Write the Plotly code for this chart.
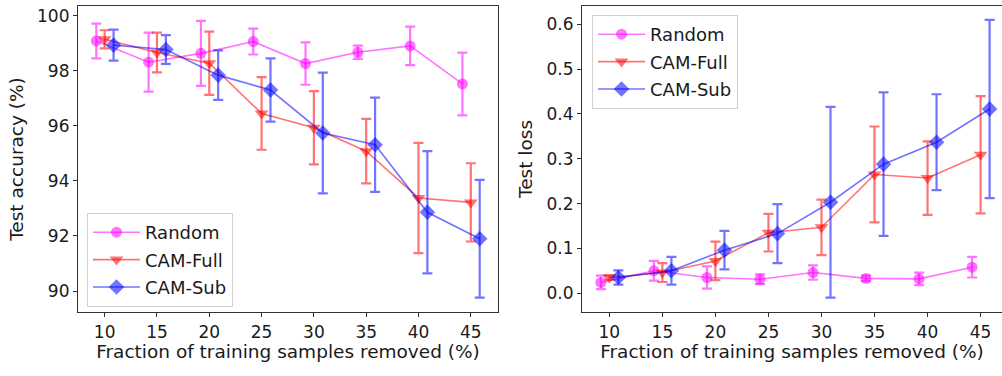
import plotly.graph_objects as go

# ---- data ----
fractions = [10, 15, 20, 25, 30, 35, 40, 45]
offset_random = -0.8
offset_sub = 0.85

acc_random = [99.08, 98.31, 98.63, 99.06, 98.26, 98.67, 98.90, 97.52]
acc_random_err = [0.63, 1.07, 1.18, 0.47, 0.77, 0.24, 0.70, 1.14]
acc_full = [99.14, 98.66, 98.27, 96.45, 95.93, 95.08, 93.38, 93.22]
acc_full_err = [0.33, 0.72, 1.15, 1.32, 1.33, 1.17, 2.00, 1.42]
acc_sub = [98.93, 98.77, 97.84, 97.30, 95.74, 95.31, 92.86, 91.90]
acc_sub_err = [0.56, 0.52, 0.90, 1.15, 2.19, 1.71, 2.22, 2.14]

loss_random = [0.024, 0.050, 0.035, 0.031, 0.046, 0.033, 0.032, 0.058]
loss_random_err = [0.015, 0.022, 0.025, 0.011, 0.016, 0.006, 0.014, 0.023]
loss_full = [0.035, 0.046, 0.072, 0.135, 0.147, 0.265, 0.257, 0.309]
loss_full_err = [0.005, 0.021, 0.043, 0.042, 0.062, 0.107, 0.082, 0.131]
loss_sub = [0.035, 0.050, 0.096, 0.133, 0.203, 0.288, 0.337, 0.411]
loss_sub_err = [0.016, 0.031, 0.043, 0.066, 0.213, 0.160, 0.107, 0.199]

series_names = ["Random", "CAM-Full", "CAM-Sub"]
x_ticks = [10, 15, 20, 25, 30, 35, 40, 45]
acc_ticks = [90, 92, 94, 96, 98, 100]
loss_ticks = [0.0, 0.1, 0.2, 0.3, 0.4, 0.5, 0.6]

FONT = "DejaVu Sans"
TICK_SIZE = 17
TITLE_SIZE = 18.5
LEG_SIZE = 18
A = 0.55
styles = [
    dict(color=f"rgba(255,0,255,{A})", symbol="circle", size=11, off=offset_random),
    dict(color=f"rgba(255,0,0,{A})", symbol="triangle-down", size=12, off=0.0),
    dict(color=f"rgba(0,0,255,{A})", symbol="diamond", size=12, off=offset_sub),
]

fig = go.Figure()

def add_series(ys, errs, idx, xaxis, yaxis, legend):
    st = styles[idx]
    fig.add_trace(go.Scatter(
        x=[f + st["off"] for f in fractions], y=ys,
        mode="lines+markers", name=series_names[idx],
        xaxis=xaxis, yaxis=yaxis, legend=legend,
        legendgroup=legend + series_names[idx],
        line=dict(color=st["color"], width=1.6),
        marker=dict(color=st["color"], symbol=st["symbol"], size=st["size"],
                    line=dict(width=0)),
        error_y=dict(type="data", array=errs, visible=True, color=st["color"],
                     thickness=2.2, width=5),
    ))

for i, (ys, es) in enumerate([(acc_random, acc_random_err), (acc_full, acc_full_err), (acc_sub, acc_sub_err)]):
    add_series(ys, es, i, "x", "y", "legend")
for i, (ys, es) in enumerate([(loss_random, loss_random_err), (loss_full, loss_full_err), (loss_sub, loss_sub_err)]):
    add_series(ys, es, i, "x2", "y2", "legend2")

axis_common = dict(showline=True, mirror=True, linecolor="#333333", linewidth=1.2,
                   ticks="outside", ticklen=4, tickcolor="#333333",
                   showgrid=False, zeroline=False,
                   tickfont=dict(family=FONT, size=TICK_SIZE, color="#1a1a1a"))

ydom = [1 - 312 / 376, 1 - 6 / 376]
legend_common = dict(xanchor="left", yanchor="top",
                     bgcolor="rgba(255,255,255,0.85)", bordercolor="#d0d0d0", borderwidth=1,
                     font=dict(family=FONT, size=LEG_SIZE, color="#1a1a1a"),
                     traceorder="grouped", tracegroupgap=1, itemwidth=47)
fig.update_layout(
    width=1002, height=376,
    margin=dict(l=0, r=0, t=0, b=0),
    paper_bgcolor="white", plot_bgcolor="white",
    font=dict(family=FONT, size=TICK_SIZE, color="#1a1a1a"),
    xaxis=dict(domain=[78 / 1002, 498 / 1002], range=[7.45, 47.6], tickvals=x_ticks,
               title=dict(text="Fraction of training samples removed (%)", standoff=3,
                          font=dict(family=FONT, size=TITLE_SIZE)), anchor="y", **axis_common),
    yaxis=dict(domain=ydom, range=[89.24, 100.35], tickvals=acc_ticks,
               title=dict(text="Test accuracy (%)", standoff=8,
                          font=dict(family=FONT, size=TITLE_SIZE)), anchor="x", **axis_common),
    xaxis2=dict(domain=[582 / 1002, 1.0], range=[7.42, 47.02], tickvals=x_ticks,
                title=dict(text="Fraction of training samples removed (%)", standoff=3,
                           font=dict(family=FONT, size=TITLE_SIZE)), anchor="y2", **axis_common),
    yaxis2=dict(domain=ydom, range=[-0.042, 0.641], tickvals=loss_ticks,
                tickformat=".1f",
                title=dict(text="Test loss", standoff=8,
                           font=dict(family=FONT, size=TITLE_SIZE)), anchor="x2", **axis_common),
    legend=dict(x=87 / 1002, y=1 - 213 / 376, **legend_common),
    legend2=dict(x=592 / 1002, y=1 - 15 / 376, **legend_common),
    showlegend=True,
)

fig.write_html("out.html")
